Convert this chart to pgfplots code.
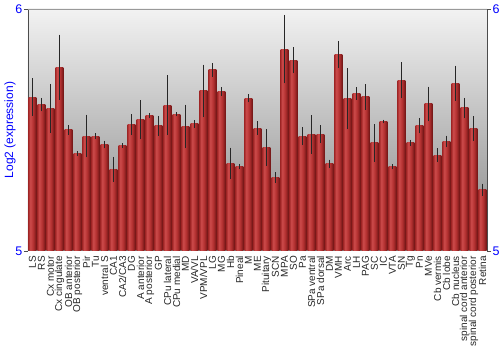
\documentclass[border=0pt]{standalone}
\usepackage{fontspec}
\setmainfont{Liberation Sans}
\usepackage{pgfplots}
\pgfplotsset{compat=1.18}
\usepackage{pgfplotstable}
\definecolor{barA}{RGB}{172,48,48}
\definecolor{barB}{RGB}{205,75,75}
\definecolor{barC}{RGB}{178,48,48}
\definecolor{barD}{RGB}{115,22,22}
\pgfdeclarehorizontalshading{barshade}{100bp}{color(0bp)=(barA); color(25bp)=(barA); color(35bp)=(barB); color(55bp)=(barC); color(75bp)=(barD); color(100bp)=(barD)}
\pgfplotstableread{
x y e
0 5.636 0.071
1 5.605 0.021
2 5.590 0.094
3 5.760 0.128
4 5.500 0.012
5 5.403 0.003
6 5.475 0.082
7 5.475 0.004
8 5.440 0.009
9 5.337 0.045
10 5.436 0.002
11 5.522 0.037
12 5.542 0.074
13 5.561 0.003
14 5.517 0.035
15 5.602 0.117
16 5.565 0.002
17 5.515 0.083
18 5.525 0.009
19 5.662 0.102
20 5.748 0.021
21 5.659 0.011
22 5.363 0.058
23 5.348 0.003
24 5.632 0.010
25 5.508 0.022
26 5.428 0.069
27 5.303 0.015
28 5.834 0.135
29 5.789 0.047
30 5.474 0.030
31 5.481 0.073
32 5.483 0.029
33 5.361 0.010
34 5.813 0.049
35 5.629 0.120
36 5.651 0.019
37 5.637 0.046
38 5.447 0.071
39 5.535 0.001
40 5.348 0.004
41 5.706 0.068
42 5.447 0.006
43 5.518 0.025
44 5.608 0.065
45 5.396 0.021
46 5.453 0.017
47 5.693 0.066
48 5.591 0.035
49 5.506 0.044
50 5.253 0.019
}\datatable
\begin{document}
\begin{tikzpicture}
\useasboundingbox (-28pt,-99pt) rectangle (472pt,251pt);
\begin{axis}[
  at={(0,0)}, anchor=south west,
  scale only axis, width=459pt, height=242pt,
  xmin=-0.5, xmax=50.5, ymin=5, ymax=6,
  axis background/.style={top color=black!5, bottom color=black!48},
  axis x line*=bottom, axis y line*=left,
  x axis line style={draw=none}, y axis line style={black!70},
  xtick={0,...,50},
  xticklabels={LS,RS,Cx motor,Cx cingulate,OB anterior,OB posterior,Pir,Tu,ventral S,CA1,CA2/CA3,DG,A anterior,A posterior,GP,CPu lateral,CPu medial,MD,VA/VL,VPM/VPL,LG,MG,Hb,Pineal,M,ME,Pituitary,SCN,MPA,SO,Pa,SPa ventral,SPa dorsal,DM,VMH,Arc,LH,PAG,SC,IC,VTA,SN,Tg,Pn,MVe,Cb vermis,Cb lobe,Cb nucleus,spinal cord anterior,spinal cord posterior,Retina},
  xtick style={draw=none},
  xticklabel style={rotate=90, anchor=east, font=\fontsize{10}{10}\selectfont, text=black!85, inner sep=1pt},
  ytick={5,6}, tick align=outside, major tick length=4pt, ytick style={black!70},
  yticklabel style={blue, font=\fontsize{12.5}{12.5}\selectfont, inner sep=1.5pt},
  every axis y label/.style={at={(axis description cs:-0.039,0.5)}, rotate=90, anchor=center},
  ylabel={Log2 (expression)},
  ylabel style={blue, font=\fontsize{12}{12}\selectfont},
  /pgf/number format/assume math mode=true,
  unbounded coords=discard,
]
\pgfplotsinvokeforeach{0,...,50}{
\addplot[ybar, bar width=7.6pt, bar shift=0pt, draw=none, shading=barshade,
  x filter/.expression={abs(x-#1)<0.1 ? x : nan},
  error bars/.cd, y dir=both, y explicit,
  error bar style={black!85, line width=0.7pt},
  error mark options={black!85, line width=0.7pt, mark size=1.6pt}]
  table[x=x, y=y, y error=e] {\datatable};
}
\draw[black!40] (rel axis cs:0,1) -- (rel axis cs:1,1);
\end{axis}
\begin{axis}[
  at={(0,0)}, anchor=south west,
  scale only axis, width=459pt, height=242pt,
  xmin=-0.5, xmax=50.5, ymin=5, ymax=6,
  axis x line=none, axis y line*=right,
  y axis line style={black!70},
  ytick={5,6}, tick align=outside, major tick length=4pt, ytick style={black!70},
  yticklabel style={blue, font=\fontsize{12.5}{12.5}\selectfont, inner sep=1.5pt},
  /pgf/number format/assume math mode=true,
]
\end{axis}
\end{tikzpicture}
\end{document}
